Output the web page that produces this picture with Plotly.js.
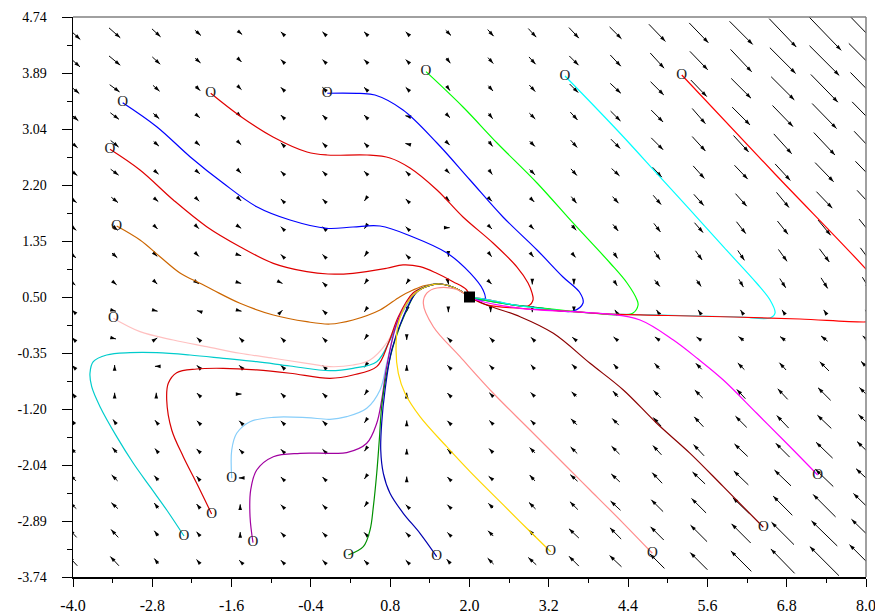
<!DOCTYPE html>
<html><head><meta charset="utf-8">
<script src="https://cdn.plot.ly/plotly-3.0.1.min.js"></script>
<style>html,body{margin:0;padding:0;background:#fff}#chart{width:875px;height:616px}</style>
</head><body><div id="chart"></div>
<script>
// ---- axis ticks ----
const xTickVals = [-4.0, -2.8, -1.6, -0.4, 0.8, 2.0, 3.2, 4.4, 5.6, 6.8, 8.0];
const xTickText = ["-4.0", "-2.8", "-1.6", "-0.4", "0.8", "2.0", "3.2", "4.4", "5.6", "6.8", "8.0"];
const yTickVals = [-3.74, -2.892, -2.044, -1.196, -0.348, 0.5, 1.348, 2.196, 3.044, 3.892, 4.74];
const yTickText = ["-3.74", "-2.89", "-2.04", "-1.20", "-0.35", "0.50", "1.35", "2.20", "3.04", "3.89", "4.74"];

// ---- vector field grid (columns x, rows y from top) ----
const fieldX = [-4.00, -3.37, -2.74, -2.11, -1.47, -0.84, -0.21, 0.42, 1.05, 1.68, 2.32, 2.95, 3.58, 4.21, 4.84, 5.47, 6.11, 6.74, 7.37, 8.00];
const fieldY = [4.50, 4.08, 3.66, 3.24, 2.82, 2.39, 1.97, 1.55, 1.13, 0.71, 0.29, -0.13, -0.55, -0.97, -1.39, -1.82, -2.24, -2.66, -3.08, -3.50];
const fieldU = [
 [0.22,0.17,0.13,0.09,0.06,-0.03,-0.03,-0.03,-0.03,0.08,0.09,0.12,0.15,0.18,0.25,0.29,0.35,0.41,0.51,0.58],
 [0.21,0.17,0.12,0.08,0.04,-0.03,-0.03,-0.03,-0.03,0.06,0.08,0.10,0.14,0.16,0.21,0.27,0.32,0.39,0.45,0.52],
 [0.19,0.15,0.10,0.07,0.04,-0.03,-0.03,-0.03,-0.03,0.05,0.07,0.09,0.13,0.16,0.20,0.24,0.30,0.35,0.41,0.47],
 [0.16,0.13,0.09,0.06,0.03,-0.03,-0.03,-0.03,-0.04,0.05,0.06,0.09,0.11,0.15,0.18,0.20,0.27,0.31,0.37,0.42],
 [0.14,0.12,0.08,0.06,0.03,-0.03,-0.03,-0.03,-0.04,0.04,0.06,0.08,0.10,0.14,0.18,0.20,0.23,0.27,0.32,0.36],
 [0.13,0.12,0.07,0.06,0.03,-0.03,-0.03,-0.03,-0.03,0.04,0.05,0.08,0.09,0.12,0.14,0.17,0.20,0.23,0.28,0.32],
 [0.11,0.10,0.06,0.04,0.03,-0.03,-0.03,-0.02,-0.03,0.04,0.04,0.06,0.08,0.09,0.12,0.15,0.17,0.19,0.24,0.27],
 [0.10,0.09,0.04,0.03,0.03,-0.03,-0.03,-0.02,-0.03,0.04,0.04,0.05,0.07,0.08,0.10,0.13,0.14,0.16,0.19,0.21],
 [0.09,0.08,0.03,0.03,0.03,-0.03,-0.03,-0.02,-0.03,0.00,0.03,0.04,0.05,0.06,0.09,0.10,0.10,0.13,0.15,0.17],
 [0.07,0.06,0.03,0.03,0.03,0.02,-0.03,-0.02,-0.02,0.01,0.03,0.00,0.00,0.05,0.08,0.07,0.07,0.09,0.10,0.11],
 [-0.03,0.04,0.04,-0.03,0.04,0.02,-0.03,-0.02,-0.01,0.00,0.00,0.00,0.00,-0.02,-0.02,-0.02,-0.02,-0.02,-0.02,-0.02],
 [-0.03,0.04,0.03,-0.03,-0.03,-0.03,-0.03,-0.02,0.00,-0.03,-0.03,-0.04,-0.05,-0.06,-0.07,-0.07,-0.08,-0.08,-0.10,-0.10],
 [-0.03,0.00,-0.04,-0.03,-0.03,-0.03,-0.03,-0.02,0.00,-0.03,-0.04,-0.04,-0.06,-0.06,-0.08,-0.09,-0.10,-0.10,-0.14,-0.15],
 [-0.03,0.00,0.00,-0.03,0.04,-0.03,-0.03,-0.02,0.00,-0.03,-0.04,-0.05,-0.07,-0.08,-0.11,-0.12,-0.13,-0.15,-0.19,-0.20],
 [-0.05,-0.05,-0.04,-0.03,-0.03,-0.03,-0.03,-0.02,0.00,-0.03,-0.04,-0.05,-0.09,-0.10,-0.12,-0.14,-0.17,-0.18,-0.21,-0.23],
 [-0.07,-0.07,-0.04,-0.04,-0.03,-0.03,-0.03,-0.02,0.00,-0.03,-0.05,-0.08,-0.10,-0.12,-0.13,-0.16,-0.20,-0.21,-0.25,-0.27],
 [-0.09,-0.09,-0.06,-0.04,-0.04,-0.03,-0.03,-0.02,0.00,-0.03,-0.06,-0.08,-0.11,-0.13,-0.15,-0.19,-0.22,-0.25,-0.27,-0.30],
 [-0.10,-0.10,-0.06,-0.04,0.00,-0.03,-0.03,-0.02,-0.03,-0.03,-0.07,-0.10,-0.12,-0.15,-0.18,-0.22,-0.25,-0.29,-0.34,-0.38],
 [-0.11,-0.11,-0.06,-0.04,0.00,-0.03,-0.03,-0.03,-0.03,-0.03,-0.08,-0.11,-0.15,-0.17,-0.20,-0.25,-0.29,-0.34,-0.39,-0.44],
 [-0.13,-0.13,-0.06,-0.04,-0.03,-0.03,-0.03,-0.03,-0.03,-0.05,-0.09,-0.12,-0.15,-0.18,-0.22,-0.26,-0.31,-0.36,-0.44,-0.50]
];
const fieldV = [
 [-0.20,-0.15,-0.12,-0.08,-0.05,0.03,0.03,0.03,0.03,-0.08,-0.10,-0.13,-0.16,-0.18,-0.26,-0.30,-0.35,-0.43,-0.53,-0.60],
 [-0.19,-0.14,-0.11,-0.07,-0.04,0.03,0.03,0.03,0.03,-0.08,-0.09,-0.11,-0.14,-0.17,-0.23,-0.28,-0.34,-0.39,-0.45,-0.52],
 [-0.16,-0.11,-0.09,-0.07,-0.04,0.03,0.03,0.03,0.03,-0.07,-0.08,-0.10,-0.13,-0.15,-0.20,-0.25,-0.30,-0.35,-0.42,-0.48],
 [-0.14,-0.10,-0.08,-0.05,-0.03,0.03,0.03,0.03,0.01,-0.05,-0.08,-0.09,-0.12,-0.15,-0.18,-0.23,-0.27,-0.32,-0.38,-0.43],
 [-0.12,-0.10,-0.07,-0.05,-0.03,0.03,0.03,0.03,0.01,-0.04,-0.08,-0.08,-0.11,-0.14,-0.18,-0.22,-0.25,-0.30,-0.34,-0.38],
 [-0.10,-0.09,-0.06,-0.05,-0.03,0.03,0.03,0.03,0.03,-0.04,-0.07,-0.08,-0.10,-0.11,-0.15,-0.19,-0.21,-0.25,-0.29,-0.33],
 [-0.08,-0.08,-0.05,-0.04,-0.03,0.03,0.03,-0.03,0.03,-0.04,-0.04,-0.06,-0.10,-0.10,-0.14,-0.17,-0.19,-0.23,-0.25,-0.29],
 [-0.08,-0.08,-0.04,-0.03,-0.02,0.03,0.03,-0.03,0.03,0.00,-0.04,-0.05,-0.08,-0.10,-0.13,-0.15,-0.18,-0.20,-0.23,-0.26],
 [-0.07,-0.07,-0.03,-0.03,-0.01,0.03,0.03,-0.03,0.03,-0.04,-0.04,-0.05,-0.06,-0.09,-0.13,-0.14,-0.15,-0.18,-0.20,-0.23],
 [-0.06,-0.05,-0.03,-0.02,-0.01,-0.01,0.03,-0.03,-0.03,-0.04,-0.03,-0.04,-0.04,-0.08,-0.10,-0.10,-0.12,-0.14,-0.16,-0.18],
 [0.03,-0.01,-0.01,0.01,-0.01,0.02,0.03,-0.03,-0.04,-0.04,-0.04,-0.04,-0.04,0.03,0.03,0.03,0.03,0.03,0.03,0.03],
 [0.03,-0.01,0.02,0.03,0.03,0.03,0.03,-0.03,-0.04,0.03,0.03,0.04,0.04,0.05,0.05,0.05,0.06,0.06,0.08,0.08],
 [0.03,0.04,0.00,0.03,0.03,0.03,0.03,-0.03,0.04,0.03,0.04,0.05,0.06,0.07,0.09,0.09,0.10,0.11,0.14,0.15],
 [0.04,0.04,0.04,0.03,0.00,0.03,0.03,-0.03,0.04,0.03,0.04,0.05,0.07,0.09,0.11,0.12,0.14,0.16,0.19,0.20],
 [0.07,0.07,0.05,0.03,0.03,0.03,0.03,-0.03,0.04,0.03,0.04,0.05,0.09,0.10,0.13,0.15,0.17,0.19,0.20,0.22],
 [0.08,0.08,0.05,0.04,0.03,0.03,0.03,-0.03,0.04,0.03,0.05,0.08,0.10,0.12,0.14,0.17,0.19,0.21,0.24,0.26],
 [0.09,0.09,0.07,0.05,0.00,0.03,0.03,-0.03,0.04,0.03,0.05,0.09,0.10,0.12,0.16,0.18,0.21,0.24,0.26,0.28],
 [0.09,0.09,0.08,0.05,0.04,0.03,0.03,-0.03,0.03,0.03,0.07,0.10,0.12,0.14,0.18,0.22,0.24,0.29,0.34,0.37],
 [0.12,0.12,0.08,0.05,0.04,0.03,0.03,0.03,0.03,0.03,0.08,0.11,0.14,0.17,0.20,0.25,0.29,0.34,0.38,0.43],
 [0.14,0.14,0.08,0.05,0.03,0.03,0.03,0.03,0.03,0.06,0.09,0.11,0.15,0.17,0.22,0.26,0.31,0.37,0.44,0.50]
];

// ---- equilibrium ----
const eqX = [2.0], eqY = [0.5];

// ---- trajectories ----
const red1X = [-1.916,-1.473,-0.973,-0.459,-0.156,0.449,0.797,1.100,1.508,1.902,2.356,2.719,2.886,2.946,2.961,2.886,2.659,2.311,2.0];
const red1Y = [3.585,3.241,2.923,2.696,2.650,2.650,2.605,2.453,2.120,1.712,1.318,0.954,0.712,0.561,0.455,0.364,0.379,0.455,0.5];
const blue1X = [-3.248,-2.733,-2.229,-1.725,-1.220,-0.716,-0.161,0.237,0.646,1.145,1.660,2.008,2.205,2.235,2.129,2.0];
const blue1Y = [3.442,3.079,2.625,2.222,1.867,1.666,1.540,1.560,1.575,1.409,1.166,0.864,0.606,0.470,0.455,0.5];
const blue2X = [-0.152,0.343,0.570,0.994,1.508,2.008,2.507,3.022,3.415,3.673,3.718,3.567,3.067,2.462,2.129,2.0];
const blue2Y = [3.585,3.582,3.559,3.332,2.832,2.272,1.712,1.212,0.803,0.561,0.409,0.288,0.334,0.409,0.470,0.5];
const greenX = [1.342,1.902,2.417,3.022,3.567,4.127,4.384,4.535,4.551,4.475,4.278,3.824,3.067,2.462,2.0];
const greenY = [3.912,3.377,2.832,2.226,1.621,1.015,0.712,0.455,0.379,0.258,0.228,0.258,0.334,0.409,0.5];
const cyanX = [3.445,3.824,4.328,4.833,5.338,5.841,6.347,6.548,6.624,6.548,6.094,5.489,4.732,3.824,2.765,2.311,2.0];
const cyanY = [3.847,3.457,2.927,2.373,1.818,1.262,0.708,0.455,0.258,0.182,0.197,0.212,0.228,0.258,0.364,0.455,0.5];
const red4X = [5.212,6.623,8.011,8.35,8.30,8.0,7.0,6.0,5.0,4.08,3.57,2.77,2.26,2.0];
const red4Y = [3.862,2.363,0.909,0.50,0.15,0.122,0.167,0.197,0.220,0.243,0.280,0.330,0.380,0.5];
const red2X = [-3.440,-2.986,-2.482,-1.977,-1.473,-0.969,-0.463,-0.141,0.237,0.747,0.994,1.251,1.504,1.751,1.958,2.0];
const red2Y = [2.737,2.423,1.969,1.565,1.262,1.010,0.883,0.848,0.859,0.935,0.985,0.959,0.859,0.732,0.606,0.5];
const orangeX = [-3.339,-2.986,-2.683,-2.381,-2.078,-1.881,-1.473,-0.969,-0.463,-0.111,0.237,0.646,0.949,1.145,1.327,1.554,1.781,2.0];
const orangeY = [1.575,1.363,1.110,0.864,0.708,0.606,0.405,0.228,0.126,0.091,0.152,0.303,0.505,0.606,0.674,0.697,0.636,0.5];
const pinkX = [-3.390,-2.986,-2.482,-1.977,-1.473,-0.969,-0.463,-0.111,0.237,0.494,0.747,0.949,1.145,1.327,1.554,1.781,2.0];
const pinkY = [0.178,-0.025,-0.151,-0.252,-0.352,-0.428,-0.504,-0.555,-0.530,-0.454,-0.196,0.202,0.505,0.652,0.697,0.636,0.5];
const tealX = [-2.320,-2.582,-2.835,-3.087,-3.339,-3.591,-3.717,-3.743,-3.693,-3.490,-3.137,-2.733,-2.229,-1.725,-1.220,-0.716,-0.111,0.237,0.596,0.797,0.949,1.145,1.327,1.554,1.781,2.0];
const tealY = [-3.119,-2.725,-2.372,-2.018,-1.615,-1.161,-0.858,-0.655,-0.480,-0.378,-0.343,-0.343,-0.378,-0.428,-0.480,-0.545,-0.616,-0.580,-0.480,-0.151,0.202,0.530,0.652,0.697,0.636,0.5];
const red3X = [-1.902,-2.128,-2.331,-2.506,-2.582,-2.558,-2.431,-2.128,-1.725,-1.220,-0.716,-0.111,0.237,0.596,0.772,0.923,1.145,1.327,1.554,1.781,2.0];
const red3Y = [-2.786,-2.321,-1.918,-1.514,-1.060,-0.807,-0.646,-0.590,-0.580,-0.605,-0.655,-0.731,-0.681,-0.555,-0.201,0.202,0.561,0.652,0.697,0.636,0.5];
const lightBlueX = [-1.598,-1.598,-1.523,-1.321,-0.969,-0.463,-0.111,0.142,0.445,0.646,0.747,0.873,1.050,1.201,1.372,1.554,1.781,2.0];
const lightBlueY = [-2.245,-1.817,-1.564,-1.388,-1.322,-1.327,-1.352,-1.312,-1.185,-0.908,-0.504,0.0,0.405,0.580,0.667,0.697,0.636,0.5];
const purpleX = [-1.276,-1.321,-1.311,-1.220,-0.969,-0.565,-0.111,0.142,0.445,0.596,0.671,0.747,0.899,1.050,1.201,1.372,1.554,1.781,2.0];
const purpleY = [-3.220,-2.827,-2.422,-2.120,-1.918,-1.867,-1.867,-1.857,-1.715,-1.412,-1.060,-0.555,0.102,0.410,0.580,0.667,0.697,0.636,0.5];
const darkGreenX = [0.166,0.393,0.495,0.545,0.596,0.635,0.671,0.747,0.873,1.050,1.201,1.372,1.554,1.781,2.0];
const darkGreenY = [-3.407,-3.281,-3.028,-2.675,-2.170,-1.665,-1.161,-0.655,-0.151,0.303,0.580,0.667,0.697,0.636,0.5];
const navyX = [1.504,1.251,0.998,0.797,0.696,0.657,0.671,0.722,0.823,0.998,1.201,1.372,1.554,1.781,2.0];
const navyY = [-3.432,-3.078,-2.775,-2.472,-2.170,-1.817,-1.412,-0.908,-0.302,0.202,0.580,0.667,0.697,0.636,0.5];
const goldX = [3.229,2.866,2.512,2.008,1.655,1.251,1.024,0.923,0.888,0.923,1.050,1.201,1.372,1.554,1.781,2.0];
const goldY = [-3.357,-3.002,-2.649,-2.145,-1.767,-1.312,-0.958,-0.655,-0.302,0.102,0.405,0.580,0.667,0.697,0.636,0.5];
const salmonX = [4.767,4.328,3.824,3.521,2.916,2.360,1.857,1.453,1.301,1.357,1.508,1.781,2.0];
const salmonY = [-3.381,-2.927,-2.422,-2.120,-1.514,-0.958,-0.404,0.050,0.405,0.561,0.636,0.621,0.5];
const maroonX = [6.447,5.841,5.338,4.833,4.328,3.824,3.269,2.765,2.261,2.0];
const maroonY = [-2.987,-2.372,-1.867,-1.412,-0.908,-0.504,-0.050,0.202,0.379,0.5];
const magentaX = [7.269,6.851,6.347,5.841,5.460,5.085,4.581,4.077,3.571,2.765,2.109,2.0];
const magentaY = [-2.195,-1.767,-1.261,-0.757,-0.440,-0.151,0.152,0.243,0.278,0.329,0.455,0.5];

const trajectories = [
  [red1X, red1Y, '#e00000'], [blue1X, blue1Y, '#0000ff'], [blue2X, blue2Y, '#0000ff'],
  [greenX, greenY, '#00ff00'], [cyanX, cyanY, '#00ffff'], [red4X, red4Y, '#ff0000'],
  [red2X, red2Y, '#e00000'], [orangeX, orangeY, '#cc6600'], [pinkX, pinkY, '#ffc0c0'],
  [tealX, tealY, '#00cccc'], [red3X, red3Y, '#d80000'], [lightBlueX, lightBlueY, '#87cefa'],
  [purpleX, purpleY, '#a000a0'], [darkGreenX, darkGreenY, '#009000'], [navyX, navyY, '#0000b0'],
  [goldX, goldY, '#ffd700'], [salmonX, salmonY, '#ff8c8c'], [maroonX, maroonY, '#8b0000'],
  [magentaX, magentaY, '#ff00ff']
];

// ---- build traces ----
const W = 875, H = 616, M = {l:73, r:9, t:17, b:39};
const xRange = [-4, 8], yRange = [-3.74, 4.74];
const pxPerX = (W - M.l - M.r) / (xRange[1] - xRange[0]);
const pxPerY = (H - M.t - M.b) / (yRange[1] - yRange[0]);

const shaftX = [], shaftY = [], headX = [], headY = [], headAng = [];
for (let r = 0; r < fieldY.length; r++) {
  for (let i = 0; i < fieldX.length; i++) {
    const u = fieldU[r][i], v = fieldV[r][i];
    const x0 = fieldX[i] - u / 2, y0 = fieldY[r] - v / 2;
    const x1 = fieldX[i] + u / 2, y1 = fieldY[r] + v / 2;
    shaftX.push(x0, x1, null); shaftY.push(y0, y1, null);
    headX.push(x1); headY.push(y1);
    headAng.push(Math.atan2(u * pxPerX, v * pxPerY) * 180 / Math.PI);
  }
}

const data = [];
data.push({type:'scatter', mode:'lines', x:shaftX, y:shaftY, line:{color:'#000', width:1}, hoverinfo:'skip'});
data.push({type:'scatter', mode:'markers', x:headX, y:headY,
  marker:{symbol:'arrow', size:6, angle:headAng, color:'#000', line:{width:0}}, hoverinfo:'skip'});
trajectories.forEach(t => {
  data.push({type:'scatter', mode:'lines', x:t[0], y:t[1], line:{color:t[2], width:1.2, shape:'spline', smoothing:1}, hoverinfo:'skip'});
});
data.push({type:'scatter', mode:'text', x:trajectories.map(t => t[0][0]), y:trajectories.map(t => t[1][0]),
  text:trajectories.map(() => 'O'), textposition:'middle center',
  textfont:{family:'Liberation Serif, Times New Roman, serif', size:15, color:'#222'}, hoverinfo:'skip'});
data.push({type:'scatter', mode:'markers', x:eqX, y:eqY, marker:{symbol:'square', size:11, color:'#000'}, hoverinfo:'skip'});

function mids(v){ const o=[]; for(let k=0;k<v.length-1;k++) o.push((v[k]+v[k+1])/2); return o; }

const layout = {
  width:W, height:H, margin:M, paper_bgcolor:'#fff', plot_bgcolor:'#fff', showlegend:false,
  xaxis:{range:xRange, tickmode:'array', tickvals:xTickVals, ticktext:xTickText,
    ticks:'outside', ticklen:8, tickwidth:1, tickcolor:'#000', showline:true, linecolor:'#000', linewidth:1.5,
    showgrid:false, zeroline:false, ticklabelstandoff:5, ticklabeloverflow:'allow',
    tickfont:{family:'Liberation Serif, Times New Roman, serif', size:16, color:'#000'},
    minor:{tickmode:'array', tickvals:mids(xTickVals), ticks:'outside', ticklen:4, tickcolor:'#000', showgrid:false}},
  yaxis:{range:yRange, tickmode:'array', tickvals:yTickVals, ticktext:yTickText,
    ticks:'outside', ticklen:10, tickwidth:1, tickcolor:'#000', showline:true, linecolor:'#000', linewidth:1.5,
    showgrid:false, zeroline:false, ticklabelstandoff:12, ticklabeloverflow:'allow',
    tickfont:{family:'Liberation Serif, Times New Roman, serif', size:14, color:'#000'},
    minor:{tickmode:'array', tickvals:mids(yTickVals), ticks:'outside', ticklen:5, tickcolor:'#000', showgrid:false}},
  shapes:[
    {type:'line', xref:'paper', yref:'paper', x0:0, x1:1, y0:1, y1:1, line:{color:'#808080', width:1.5}},
    {type:'line', xref:'paper', yref:'paper', x0:1, x1:1, y0:0, y1:1, line:{color:'#808080', width:1.5}}
  ]
};
Plotly.newPlot('chart', data, layout, {displayModeBar:false, staticPlot:true});
</script>
</body></html>
